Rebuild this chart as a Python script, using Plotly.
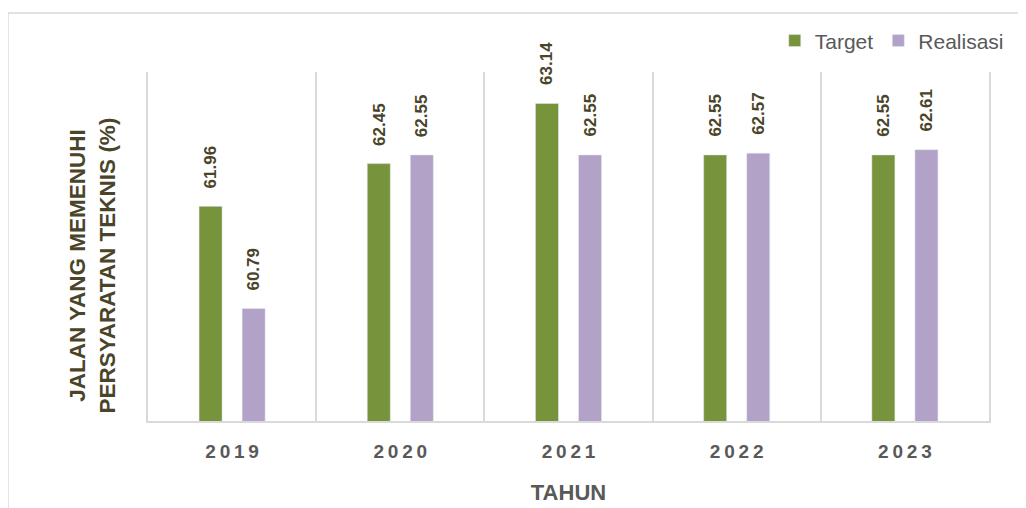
import plotly.graph_objects as go

# data
years = ["2019", "2020", "2021", "2022", "2023"]
target = [61.96, 62.45, 63.14, 62.55, 62.55]
realisasi = [60.79, 62.55, 62.55, 62.57, 62.61]

GREEN = "#77933c"
PURPLE = "#b3a2c7"
LABEL = "#4a4529"
GREY = "#595959"
GRID = "#d9d9d9"
FONT = "Liberation Sans, Arial, sans-serif"

fig = go.Figure()
fig.add_trace(go.Bar(x=years, y=target, name="Target", marker_color=GREEN))
fig.add_trace(go.Bar(x=years, y=realisasi, name="Realisasi", marker_color=PURPLE))

# value labels, rotated, above each bar (category index, since "2019" would be read as a number)
for vals, shift in [(target, -21.5), (realisasi, 21.5)]:
    for i, v in enumerate(vals):
        fig.add_annotation(x=i, y=v, xref="x", yref="y", text=f"{v:.2f}",
                           showarrow=False, textangle=-90, xshift=shift, yshift=16,
                           yanchor="bottom", xanchor="center",
                           font=dict(family=FONT, size=17, color=LABEL, weight="bold"))

# y-axis title (sits a little below the plot's centre, as in the original)
fig.add_annotation(text="JALAN YANG MEMENUHI<br>PERSYARATAN TEKNIS (%)",
                   xref="paper", yref="paper", x=-0.066, y=0.447,
                   xanchor="center", yanchor="middle", textangle=-90, showarrow=False,
                   font=dict(family=FONT, size=22.5, color=LABEL, weight="bold"))

# outer chart-area border
fig.add_shape(type="rect", xref="paper", yref="paper",
              x0=-0.1665, x1=1.2, y0=-0.4, y1=1.169,
              line=dict(color=GRID, width=1.5), fillcolor="rgba(0,0,0,0)", layer="below")

fig.update_layout(
    width=1026, height=508,
    margin=dict(l=140, r=45, t=64, b=95, autoexpand=False),
    paper_bgcolor="white", plot_bgcolor="white",
    barmode="group", bargap=0.488, bargroupgap=0.465,
    font=dict(family=FONT, color=GREY),
    showlegend=True,
    legend=dict(orientation="h", x=1.0235, xanchor="right", y=1.089, yanchor="middle",
                font=dict(size=21, color=GREY), bgcolor="rgba(0,0,0,0)"),
)
fig.update_xaxes(
    type="category", range=[-0.5, len(years) - 0.5],
    tickson="boundaries", showgrid=True, gridcolor=GRID, gridwidth=1.5,
    showline=True, linecolor=GRID, linewidth=2, ticks="", tickangle=0,
    tickmode="array", tickvals=list(range(len(years))),
    ticktext=["\u2009".join(y) for y in years],
    tickfont=dict(size=19, color=GREY, weight="bold"), ticklabelstandoff=12,
    title=dict(text="TAHUN", font=dict(size=22, color=GREY, weight="bold"), standoff=24),
)
fig.update_yaxes(
    range=[59.5, 63.5], showticklabels=False, ticks="", showgrid=False, zeroline=False,
    showline=True, linecolor=GRID, linewidth=1.5, mirror=True,
)

fig.write_html("out.html")
